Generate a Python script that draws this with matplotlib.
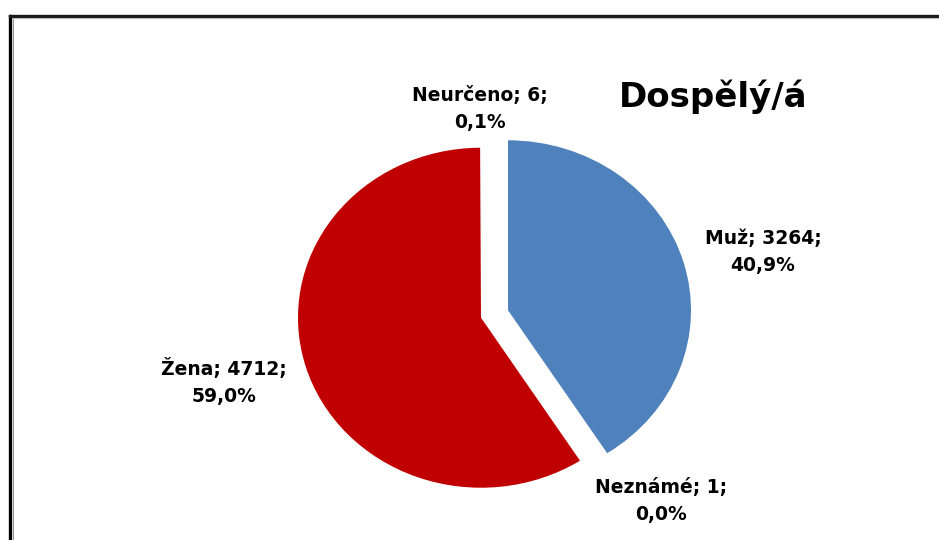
import matplotlib
matplotlib.use("Agg")
import matplotlib.pyplot as plt
from matplotlib.lines import Line2D

# data
categories = ["Muž", "Neznámé", "Žena", "Neurčeno"]
counts = [3264, 1, 4712, 6]
percent_labels = ["40,9%", "0,0%", "59,0%", "0,1%"]
slice_colors = ["#4F81BD", "#FFFFFF", "#C00000", "#FFFFFF"]
explode = [0.077, 0.0, 0.077, 0.0]
title = "Dospělý/á"

W, H = 939, 540
cx, cy = 494.5, 314      # pie centre in pixels (from top-left)
rx, ry = 183, 170        # excel stretched the pie a little

fig = plt.figure(figsize=(W / 100, H / 100), dpi=100)
ax = fig.add_axes([0, 0, 1, 1])
ax.pie(counts, colors=slice_colors, explode=explode, startangle=90,
       counterclock=False, radius=1, center=(0, 0),
       wedgeprops=dict(linewidth=0))
ax.set_aspect("auto")
ax.set_xlim(-cx / rx, (W - cx) / rx)
ax.set_ylim(-(H - cy) / ry, cy / ry)
ax.axis("off")

# data labels, excel style "name; value;" + percent
label_pos = {
    "Muž": (763, 252),
    "Neznámé": (661, 501),
    "Žena": (224, 382),
    "Neurčeno": (480, 109),
}
font = "DejaVu Sans"
for name, val, pct in zip(categories, counts, percent_labels):
    px, py = label_pos[name]
    fig.text(px / W, 1 - py / H, f"{name}; {val};\n{pct}", ha="center", va="center",
             fontsize=13.5, fontweight="bold", family=font, linespacing=1.5,
             color="#000000")

fig.text(713 / W, 1 - 97 / H, title, ha="center", va="center", fontsize=24.5,
         fontweight="bold", family=font, color="#000000")

# chart border (cut off at right and bottom)
fig.add_artist(Line2D([10 / W, 10 / W], [1 - 15.5 / H, -0.05], color="#000000",
                      linewidth=2.4, transform=fig.transFigure))
fig.add_artist(Line2D([10 / W, 1.05], [1 - 15.5 / H, 1 - 15.5 / H], color="#1a1a1a",
                      linewidth=2.4, transform=fig.transFigure))
fig.add_artist(Line2D([12.5 / W, 12.5 / W], [1 - 17.5 / H, -0.05], color="#9a9a9a",
                      linewidth=0.8, transform=fig.transFigure))
fig.add_artist(Line2D([12.5 / W, 1.05], [1 - 17.5 / H, 1 - 17.5 / H], color="#bbbbbb",
                      linewidth=0.8, transform=fig.transFigure))

fig.savefig("out.png", dpi=100, facecolor="white")
